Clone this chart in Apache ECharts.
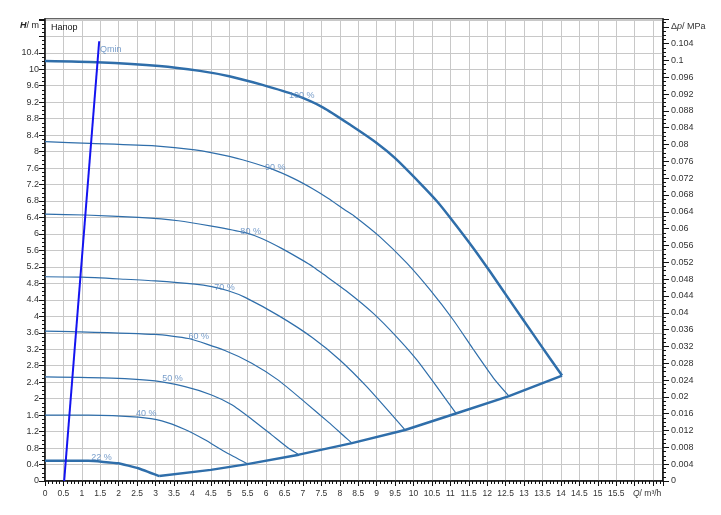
<!DOCTYPE html>
<html>
<head>
<meta charset="utf-8">
<script src="https://cdn.jsdelivr.net/npm/echarts@6/dist/echarts.min.js"></script>
<style>html,body{margin:0;padding:0;background:#fff}#c{width:721px;height:515px}</style>
</head>
<body>
<div id="c"></div>
<script>
// ---- data (Q in m³/h, H in m) ----
const curve100 = [[0,10.2],[1.4,10.17],[3.1,10.08],[4.2,9.96],[5.0,9.83],[5.9,9.62],[6.8,9.37],[7.55,9.07],[8.3,8.64],[9.0,8.21],[9.5,7.84],[10.18,7.23],[10.63,6.8],[10.99,6.4],[11.62,5.66],[12.08,5.08],[12.71,4.26],[13.25,3.56],[13.7,2.98],[14.03,2.56]];
const curve90 = [[0,8.24],[1.22,8.2],[2.98,8.14],[4.07,8.04],[4.97,7.89],[5.52,7.76],[6.15,7.58],[6.74,7.35],[7.24,7.11],[7.69,6.86],[8.14,6.58],[8.37,6.45],[9.09,5.93],[9.82,5.29],[10.45,4.64],[11.08,3.91],[11.62,3.2],[12.17,2.5],[12.59,2.06]];
const curve80 = [[0,6.48],[1.09,6.46],[2.53,6.4],[3.62,6.32],[4.52,6.19],[5.43,6.03],[5.88,5.89],[6.42,5.65],[6.97,5.37],[7.28,5.2],[7.51,5.05],[8.17,4.62],[8.91,4.07],[9.54,3.5],[10.09,2.94],[10.63,2.29],[11.15,1.65]];
const curve70 = [[0,4.96],[1.0,4.95],[2.17,4.9],[2.99,4.86],[4.07,4.78],[4.52,4.72],[4.97,4.62],[5.43,4.46],[6.35,4.01],[7.26,3.48],[8.0,2.94],[8.73,2.29],[9.77,1.24]];
const curve60 = [[0,3.64],[0.72,3.63],[2.99,3.56],[3.89,3.46],[4.88,3.17],[5.61,2.86],[6.33,2.45],[7.06,1.91],[7.69,1.43],[8.14,1.07],[8.33,0.92]];
const curve50 = [[0,2.53],[1.81,2.5],[2.99,2.43],[3.8,2.29],[4.52,2.09],[5.07,1.85],[5.61,1.5],[6.15,1.12],[6.6,0.8],[6.89,0.64]];
const curve40 = [[0,1.6],[1.18,1.6],[2.53,1.55],[3.17,1.46],[3.8,1.25],[4.34,1.0],[4.88,0.71],[5.49,0.42]];
const curve22 = [[0,0.49],[1.18,0.49],[1.99,0.43],[2.53,0.31],[3.1,0.12]];
const boundary = [[3.1,0.12],[4.5,0.27],[5.49,0.41],[6.89,0.64],[8.33,0.92],[9.77,1.24],[11.15,1.64],[12.59,2.06],[14.03,2.56]];
const qminLine = [[0.52,0],[1.47,10.68]];
const labelText = ['100 %','90 %','80 %','70 %','60 %','50 %','40 %','22 %'];
const labelQ = [6.97,6.25,5.58,4.87,4.17,3.46,2.75,1.53];
const labelH = [9.35,7.62,6.05,4.69,3.5,2.48,1.65,0.58];
const qminText = 'Qmin';
const qminLabelQ = 1.49, qminLabelH = 10.49;
const xMax = 16.77, yMax = 11.22;
const mpaPerM = 0.00979;

const FONT = "'Liberation Sans', Arial, sans-serif";
const LINE = '#2f6eaa';
const LBL = '#5585bd';

const chart = echarts.init(document.getElementById('c'), null, {renderer:'canvas'});

function lineSeries(data, w, smooth) {
  return {type:'line', data:data, symbol:'none', smooth: smooth, silent:true,
    lineStyle:{color:LINE, width:w}, z:3};
}

const option = {
  animation:false,
  backgroundColor:'#fff',
  textStyle:{fontFamily:FONT},
  grid:{left:45, right:58, top:19, bottom:34, show:true, borderColor:'#333', borderWidth:1.5, backgroundColor:'#fff'},
  xAxis:{type:'value', min:0, max:xMax, interval:0.5,
    axisLine:{show:true, onZero:false, lineStyle:{color:'#111', width:1.5}},
    axisTick:{show:true, inside:false, length:5, lineStyle:{color:'#111', width:1}},
    minorTick:{show:true, splitNumber:5, length:3, lineStyle:{color:'#111', width:1}},
    splitLine:{show:true, lineStyle:{color:'#c8c8c8', width:1}},
    axisLabel:{show:true, margin:8, fontSize:8.5, color:'#333', fontFamily:FONT, showMaxLabel:false,
      formatter:function(v){ if (v>15.9) return ''; return String(+v.toFixed(1)); }}
  },
  yAxis:[
    {type:'value', min:0, max:yMax, interval:0.4, position:'left',
      axisLine:{show:true, onZero:false, lineStyle:{color:'#111', width:1.5}},
      axisTick:{show:true, inside:false, length:6, lineStyle:{color:'#111', width:1}},
      minorTick:{show:true, splitNumber:4, length:3, lineStyle:{color:'#111', width:1}},
      splitLine:{show:true, lineStyle:{color:'#c8c8c8', width:1}},
      axisLabel:{margin:6, fontSize:9, color:'#333', fontFamily:FONT, showMaxLabel:false,
        formatter:function(v){ if (v>10.5) return ''; return String(+v.toFixed(1)); }}
    },
    {type:'value', min:0, max:yMax*mpaPerM, interval:0.004, position:'right',
      axisLine:{show:true, onZero:false, lineStyle:{color:'#111', width:1.5}},
      axisTick:{show:true, inside:false, length:6, lineStyle:{color:'#111', width:1}},
      minorTick:{show:true, splitNumber:4, length:3, lineStyle:{color:'#111', width:1}},
      splitLine:{show:false},
      axisLabel:{margin:8, fontSize:9, color:'#333', fontFamily:FONT, showMaxLabel:false,
        formatter:function(v){ if (Math.abs(v-0.108)<1e-6) return 'Δ{i|p}/ MPa'; if (v>0.105) return ''; return String(+v.toFixed(3)); },
        rich:{i:{fontStyle:'italic', fontSize:9, color:'#333', fontFamily:FONT}}}
    }
  ],
  graphic:[
    {type:'text', left:51, top:23, z:10, style:{text:'Напор', fill:'#111', font:'9px ' + FONT}},
    {type:'text', right:721-39, top:21, z:10, style:{text:'{b|H}/ m', fill:'#222', font:'9px ' + FONT,
      rich:{b:{fontStyle:'italic', fontWeight:'bold', fontSize:9, fontFamily:FONT, fill:'#222'}}}},
    {type:'text', left:633, top:489, z:10, style:{text:'{i|Q}/ m³/h', fill:'#333', font:'8.5px ' + FONT,
      rich:{i:{fontStyle:'italic', fontSize:8.5, fontFamily:FONT, fill:'#333'}}}}
  ],
  series:[
    lineSeries(curve100, 2.5, 0.2),
    lineSeries(curve90, 1.2, 0.2),
    lineSeries(curve80, 1.2, 0.2),
    lineSeries(curve70, 1.2, 0.2),
    lineSeries(curve60, 1.2, 0.2),
    lineSeries(curve50, 1.2, 0.2),
    lineSeries(curve40, 1.2, 0.2),
    lineSeries(curve22, 2.5, 0.1),
    lineSeries(boundary, 2.5, 0),
    {type:'line', data:qminLine, symbol:'none', silent:true, lineStyle:{color:'#1414f0', width:2}, z:4},
    {type:'scatter', symbolSize:0, silent:true, z:5,
      data: labelText.map(function(t,i){ return {name:t, value:[labelQ[i], labelH[i]]}; }),
      label:{show:true, position:'inside', formatter:'{b}', color:LBL, fontSize:9, fontFamily:FONT}},
    {type:'scatter', symbolSize:0, silent:true, z:5,
      data:[{name:qminText, value:[qminLabelQ, qminLabelH]}],
      label:{show:true, position:'right', distance:0, formatter:'{b}', color:LBL, fontSize:9, fontFamily:FONT}}
  ]
};
chart.setOption(option);
</script>
</body>
</html>
